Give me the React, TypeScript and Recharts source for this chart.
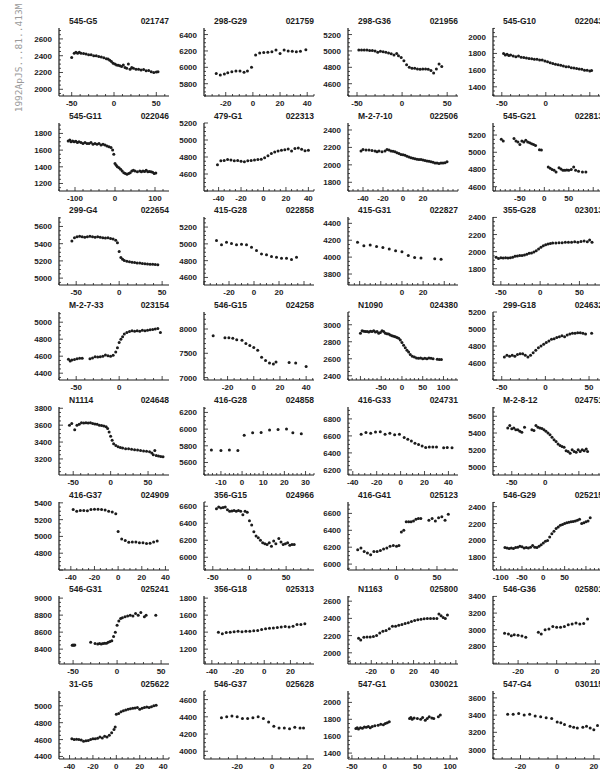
import React from 'react';
import { ScatterChart, Scatter, XAxis, YAxis } from 'recharts';

type Pt = [number, number];

const names = [
  '545-G5', '298-G29', '298-G36', '545-G10',
  '545-G11', '479-G1', 'M-2-7-10', '545-G21',
  '299-G4', '415-G28', '415-G31', '355-G28',
  'M-2-7-33', '546-G15', 'N1090', '299-G18',
  'N1114', '416-G28', '416-G33', 'M-2-8-12',
  '416-G37', '356-G15', '416-G41', '546-G29',
  '546-G31', '356-G18', 'N1163', '546-G36',
  '31-G5', '546-G37', '547-G1', '547-G4',
];

const ids = [
  '021747', '021759', '021956', '022043',
  '022046', '022313', '022506', '022813',
  '022654', '022858', '022827', '023013',
  '023154', '024258', '024380', '024632',
  '024648', '024858', '024731', '024751',
  '024909', '024966', '025123', '025215',
  '025241', '025313', '025800', '025801',
  '025622', '025628', '030021', '030115',
];

const xDomains: [number, number][] = [
  [-65, 65], [-36, 45], [-60, 62], [-60, 65],
  [-140, 135], [-53, 45], [-55, 55], [-105, 120],
  [-70, 58], [-40, 48], [-51, 53], [-60, 80],
  [-70, 58], [-38, 46], [-130, 135], [-60, 66],
  [-69, 78], [-18, 34], [-44, 48], [-78, 86],
  [-50, 43], [-62, 88], [-60, 76], [-118, 140],
  [-66, 59], [-46, 38], [-42, 62], [-33, 24],
  [-49, 45], [-39, 24], [-56, 112], [-35, 25],
];

const xLabels: number[][] = [
  [-50, 0, 50], [-20, 0, 20, 40], [-50, 0, 50], [-50, 0],
  [-100, 0, 100], [-40, -20, 0, 20, 40], [-40, -20, 0, 20], [-50, 0, 50],
  [-50, 0, 50], [-20, 0, 20], [0, 20], [-50, 0, 50],
  [-50, 0], [-20, 0, 20, 40], [-50, 0, 50, 100], [-50, 0, 50],
  [-50, 0, 50], [-10, 0, 10, 20, 30], [-40, -20, 0, 20, 40], [-50, 0],
  [-40, -20, 0, 20, 40], [-50, 0, 50], [0, 50], [-100, -50, 0, 50],
  [-50, 0, 50], [-40, -20, 0, 20], [-20, 0, 20, 40], [-20, 0, 20],
  [-40, -20, 0, 20, 40], [-20, 0, 20], [-50, 0, 50, 100], [-20, 0, 20],
];

// [major, minor]
const xSteps: [number, number][] = [
  [50, 10], [20, 5], [50, 10], [50, 10],
  [100, 20], [20, 5], [20, 5], [50, 10],
  [50, 10], [20, 5], [20, 5], [50, 10],
  [50, 10], [20, 5], [50, 10], [50, 10],
  [50, 10], [10, 2], [20, 5], [50, 10],
  [20, 5], [50, 10], [50, 10], [50, 10],
  [50, 10], [20, 5], [20, 5], [20, 5],
  [20, 5], [20, 5], [50, 10], [20, 5],
];

const yDomains: [number, number][] = [
  [1920, 2730], [5650, 6480], [4450, 5280], [1290, 2105],
  [1110, 1925], [4400, 5200], [1700, 2480], [4550, 5340],
  [4920, 5710], [4510, 5320], [3670, 4475], [1610, 2405],
  [4320, 5120], [6950, 8350], [2350, 3150], [4400, 5200],
  [3010, 3815], [5450, 6265], [6140, 6940], [4900, 5710],
  [4600, 5410], [5850, 6650], [5930, 6735], [1650, 2455],
  [8225, 9025], [1025, 1825], [1870, 2660], [2590, 3405],
  [4370, 5175], [3910, 4700], [1330, 2135], [2890, 3680],
];

const yLabels: number[][] = [
  [2000, 2200, 2400, 2600], [5800, 6000, 6200, 6400], [4600, 4800, 5000, 5200], [1400, 1600, 1800, 2000],
  [1200, 1400, 1600, 1800], [4600, 4800, 5000, 5200], [1800, 2000, 2200, 2400], [4600, 4800, 5000, 5200],
  [5000, 5200, 5400, 5600], [4600, 4800, 5000, 5200], [3800, 4000, 4200, 4400], [1800, 2000, 2200, 2400],
  [4400, 4600, 4800, 5000], [7000, 7500, 8000], [2400, 2600, 2800, 3000], [4600, 4800, 5000, 5200],
  [3200, 3400, 3600, 3800], [5600, 5800, 6000, 6200], [6200, 6400, 6600, 6800], [5000, 5200, 5400, 5600],
  [4800, 5000, 5200, 5400], [6000, 6200, 6400, 6600], [6000, 6200, 6400, 6600], [1800, 2000, 2200, 2400],
  [8400, 8600, 8800, 9000], [1200, 1400, 1600, 1800], [2000, 2200, 2400, 2600], [2800, 3000, 3200, 3400],
  [4400, 4600, 4800, 5000], [4000, 4200, 4400, 4600], [1400, 1600, 1800, 2000], [3000, 3200, 3400, 3600],
];

const ySteps: [number, number][] = [
  [200, 50], [200, 50], [200, 50], [200, 50],
  [200, 50], [200, 50], [200, 50], [200, 50],
  [200, 50], [200, 50], [200, 50], [200, 50],
  [200, 50], [500, 100], [200, 50], [200, 50],
  [200, 50], [200, 50], [200, 50], [200, 50],
  [200, 50], [200, 50], [200, 50], [200, 50],
  [200, 50], [200, 50], [200, 50], [200, 50],
  [200, 50], [200, 50], [200, 50], [200, 50],
];

const d021747: Pt[] = [[-50, 2380], [-47, 2430], [-45, 2440], [-43, 2430], [-41, 2440], [-39, 2430], [-36, 2425], [-33, 2420], [-30, 2410], [-27, 2410], [-24, 2400], [-21, 2400], [-18, 2390], [-15, 2385], [-12, 2375], [-9, 2365], [-7, 2360], [-5, 2345], [-3, 2330], [-1, 2310], [1, 2300], [3, 2290], [5, 2285], [7, 2280], [9, 2270], [11, 2290], [13, 2260], [15, 2250], [17, 2300], [19, 2240], [21, 2260], [23, 2250], [26, 2240], [29, 2240], [32, 2230], [35, 2235], [38, 2220], [41, 2225], [44, 2210], [47, 2200], [50, 2205], [52, 2210]];
const d021759: Pt[] = [[-27, 5925], [-24, 5905], [-21, 5920], [-18.5, 5935], [-15.5, 5945], [-12.5, 5955], [-9.5, 5955], [-6.5, 5940], [-4, 5955], [-1, 6000], [2, 6150], [5, 6175], [8, 6180], [11, 6185], [14, 6190], [17, 6210], [20, 6170], [23, 6210], [26, 6200], [29, 6195], [32, 6190], [35, 6195], [39, 6215]];
const d021956: Pt[] = [[-48, 5010], [-45, 5010], [-42, 5010], [-39, 5010], [-36, 5005], [-33, 5005], [-30, 5000], [-27, 4985], [-24, 4995], [-21, 4990], [-18, 4985], [-15, 4975], [-12, 4965], [-9, 4950], [-6, 4970], [-4, 4940], [-1, 4920], [2, 4880], [5, 4830], [8, 4800], [11, 4790], [14, 4790], [17, 4780], [20, 4775], [23, 4780], [26, 4780], [29, 4775], [32, 4760], [35, 4730], [38, 4780], [41, 4840], [44, 4810]];
const d022043: Pt[] = [[-48, 1800], [-46, 1780], [-44, 1790], [-42, 1775], [-40, 1780], [-37, 1770], [-34, 1760], [-31, 1770], [-28, 1755], [-25, 1750], [-22, 1745], [-19, 1740], [-16, 1735], [-13, 1730], [-10, 1730], [-7, 1720], [-4, 1720], [-1, 1710], [2, 1700], [5, 1690], [8, 1680], [11, 1670], [14, 1665], [17, 1660], [20, 1650], [23, 1640], [26, 1640], [29, 1630], [32, 1625], [35, 1620], [38, 1615], [41, 1610], [44, 1600], [47, 1600], [50, 1590], [52, 1595]];
const d022046: Pt[] = [[-117, 1710], [-113, 1720], [-110, 1700], [-106, 1710], [-102, 1700], [-98, 1705], [-94, 1690], [-90, 1700], [-85, 1690], [-80, 1680], [-75, 1690], [-70, 1680], [-65, 1680], [-60, 1690], [-55, 1670], [-50, 1680], [-45, 1670], [-40, 1680], [-35, 1660], [-30, 1670], [-25, 1660], [-20, 1650], [-15, 1640], [-10, 1630], [-6, 1600], [-3, 1550], [0, 1440], [3, 1420], [6, 1400], [10, 1390], [14, 1370], [18, 1350], [22, 1330], [26, 1320], [30, 1310], [34, 1320], [38, 1330], [42, 1350], [46, 1360], [50, 1350], [56, 1340], [62, 1350], [66, 1340], [70, 1350], [74, 1345], [78, 1360], [82, 1340], [86, 1345], [90, 1340], [94, 1335], [98, 1320], [102, 1325]];
const d022313: Pt[] = [[-41, 4710], [-38, 4755], [-35, 4760], [-32, 4770], [-29, 4765], [-26, 4755], [-23, 4760], [-20, 4750], [-17, 4745], [-14, 4755], [-11, 4760], [-8, 4765], [-5, 4770], [-2, 4775], [1, 4790], [4, 4815], [7, 4840], [10, 4860], [13, 4870], [16, 4880], [19, 4885], [22, 4895], [25, 4870], [28, 4900], [31, 4905], [34, 4890], [37, 4875], [40, 4880]];
const d022506: Pt[] = [[-42, 2160], [-40, 2175], [-37, 2170], [-34, 2170], [-31, 2165], [-28, 2160], [-26, 2150], [-24, 2160], [-21, 2150], [-18, 2160], [-16, 2175], [-14, 2170], [-12, 2160], [-10, 2155], [-8, 2150], [-6, 2140], [-4, 2130], [-2, 2120], [0, 2115], [2, 2110], [4, 2100], [6, 2090], [8, 2080], [10, 2075], [12, 2070], [14, 2065], [16, 2060], [18, 2060], [20, 2055], [22, 2050], [24, 2045], [26, 2040], [28, 2035], [30, 2030], [32, 2020], [34, 2020], [36, 2015], [38, 2020], [40, 2020], [42, 2025], [44, 2035]];
const d022813: Pt[] = [[-88, 5150], [-84, 5130], [-62, 5160], [-58, 5130], [-54, 5120], [-50, 5090], [-46, 5130], [-42, 5120], [-38, 5140], [-34, 5120], [-30, 5110], [-26, 5100], [-22, 5090], [-18, 5080], [-10, 5030], [-6, 5025], [8, 4830], [12, 4815], [16, 4800], [20, 4790], [24, 4770], [30, 4820], [34, 4805], [38, 4790], [42, 4790], [46, 4795], [50, 4790], [55, 4800], [60, 4830], [64, 4790], [70, 4780], [78, 4770], [85, 4770]];
const d022654: Pt[] = [[-55, 5430], [-52, 5470], [-49, 5480], [-46, 5485], [-43, 5480], [-40, 5475], [-37, 5480], [-34, 5485], [-31, 5480], [-28, 5475], [-25, 5480], [-22, 5475], [-19, 5470], [-16, 5465], [-13, 5470], [-10, 5460], [-7, 5455], [-4, 5440], [-2, 5410], [0, 5310], [2, 5240], [4, 5220], [6, 5205], [9, 5195], [12, 5190], [15, 5185], [18, 5180], [21, 5175], [24, 5175], [27, 5170], [30, 5168], [33, 5165], [36, 5162], [39, 5160], [42, 5158], [45, 5155]];
const d022858: Pt[] = [[-30, 5040], [-26, 4990], [-22, 5020], [-18, 5005], [-14, 4990], [-10, 4995], [-6, 4990], [-2, 4960], [2, 4920], [6, 4880], [10, 4870], [14, 4850], [18, 4840], [22, 4830], [26, 4830], [30, 4815], [34, 4840]];
const d022827: Pt[] = [[-42, 4175], [-36, 4135], [-30, 4145], [-24, 4125], [-18, 4115], [-12, 4095], [-6, 4075], [0, 4065], [6, 4020], [12, 3995], [18, 3990], [31, 3980], [37, 3975]];
const d023013: Pt[] = [[-56, 1935], [-53, 1920], [-50, 1930], [-47, 1925], [-44, 1930], [-41, 1925], [-38, 1930], [-35, 1935], [-32, 1945], [-29, 1950], [-26, 1955], [-23, 1955], [-20, 1960], [-17, 1970], [-14, 1980], [-11, 1985], [-8, 1995], [-5, 2010], [-2, 2030], [1, 2050], [4, 2070], [7, 2080], [10, 2090], [13, 2095], [16, 2100], [20, 2100], [24, 2105], [28, 2105], [32, 2110], [36, 2110], [40, 2110], [44, 2115], [48, 2110], [52, 2120], [56, 2125], [60, 2115], [63, 2135], [66, 2110]];
const d023154: Pt[] = [[-59, 4565], [-57, 4545], [-55, 4555], [-52, 4560], [-49, 4570], [-46, 4575], [-43, 4575], [-34, 4570], [-31, 4580], [-28, 4595], [-25, 4590], [-22, 4595], [-19, 4600], [-16, 4615], [-13, 4605], [-10, 4600], [-7, 4610], [-4, 4650], [-2, 4700], [0, 4760], [2, 4800], [4, 4830], [6, 4860], [9, 4880], [12, 4890], [15, 4900], [18, 4895], [21, 4900], [24, 4895], [27, 4905], [30, 4900], [33, 4905], [36, 4910], [39, 4915], [42, 4920], [45, 4925], [48, 4880]];
const d024258: Pt[] = [[-31, 7860], [-22, 7820], [-19, 7820], [-16, 7810], [-13, 7780], [-9, 7770], [-6, 7700], [-3, 7660], [0, 7620], [3, 7560], [6, 7420], [9, 7350], [12, 7300], [15, 7280], [17, 7320], [27, 7310], [32, 7300], [40, 7230]];
const d024380: Pt[] = [[-100, 2900], [-96, 2930], [-92, 2925], [-88, 2920], [-84, 2920], [-80, 2915], [-76, 2925], [-72, 2920], [-68, 2930], [-64, 2915], [-60, 2920], [-56, 2900], [-52, 2910], [-48, 2930], [-44, 2920], [-40, 2900], [-36, 2895], [-32, 2890], [-28, 2880], [-24, 2870], [-20, 2865], [-16, 2860], [-12, 2850], [-8, 2840], [-4, 2820], [0, 2790], [4, 2760], [8, 2730], [12, 2700], [16, 2680], [20, 2650], [25, 2630], [30, 2620], [35, 2610], [40, 2605], [45, 2610], [50, 2600], [55, 2605], [60, 2600], [65, 2610], [70, 2605], [75, 2600], [85, 2595], [90, 2590], [95, 2590]];
const d024632: Pt[] = [[-47, 4670], [-44, 4690], [-41, 4680], [-38, 4690], [-35, 4680], [-32, 4700], [-29, 4710], [-26, 4710], [-23, 4690], [-20, 4670], [-17, 4690], [-14, 4720], [-11, 4750], [-8, 4780], [-5, 4800], [-2, 4820], [1, 4840], [4, 4860], [7, 4880], [10, 4885], [13, 4900], [16, 4910], [19, 4920], [22, 4910], [25, 4930], [28, 4940], [31, 4950], [34, 4950], [37, 4955], [40, 4955], [43, 4950], [46, 4940], [53, 4950]];
const d024648: Pt[] = [[-55, 3600], [-52, 3620], [-48, 3545], [-45, 3600], [-42, 3610], [-39, 3630], [-36, 3625], [-33, 3630], [-30, 3625], [-27, 3630], [-24, 3620], [-21, 3615], [-18, 3610], [-15, 3600], [-12, 3595], [-9, 3590], [-6, 3580], [-4, 3560], [-2, 3520], [0, 3470], [2, 3420], [4, 3380], [7, 3360], [10, 3345], [13, 3335], [16, 3330], [20, 3320], [24, 3320], [28, 3315], [32, 3310], [36, 3305], [40, 3300], [44, 3295], [48, 3290], [52, 3285], [55, 3270], [57, 3250], [59, 3300], [61, 3240], [64, 3235], [67, 3230], [70, 3225]];
const d024858: Pt[] = [[-14.5, 5750], [-10, 5745], [-6, 5750], [-2, 5745], [1, 5925], [5, 5955], [9, 5960], [13, 5990], [17, 5995], [21, 6000], [24, 5955], [28, 5945]];
const d024731: Pt[] = [[-33, 6620], [-29, 6640], [-25, 6630], [-21, 6645], [-17, 6650], [-13, 6620], [-9, 6630], [-5, 6615], [-1, 6620], [3, 6580], [6, 6560], [9, 6540], [12, 6515], [15, 6500], [18, 6480], [21, 6465], [24, 6470], [27, 6470], [30, 6470], [36, 6460], [39, 6465], [43, 6460]];
const d024751: Pt[] = [[-56, 5460], [-53, 5490], [-50, 5450], [-47, 5460], [-44, 5440], [-41, 5440], [-38, 5420], [-35, 5410], [-31, 5470], [-20, 5440], [-17, 5430], [-14, 5490], [-11, 5470], [-8, 5460], [-5, 5455], [-2, 5440], [1, 5420], [4, 5400], [7, 5380], [10, 5350], [13, 5320], [16, 5300], [19, 5270], [22, 5250], [25, 5240], [28, 5230], [31, 5190], [34, 5180], [37, 5160], [40, 5200], [43, 5180], [46, 5170], [49, 5200], [52, 5180], [55, 5200], [58, 5190], [61, 5210], [63, 5180]];
const d024909: Pt[] = [[-38, 5320], [-35, 5300], [-32, 5310], [-29, 5310], [-26, 5305], [-23, 5320], [-20, 5325], [-17, 5325], [-14, 5320], [-11, 5315], [-8, 5300], [-5, 5290], [-2, 5270], [0, 5060], [3, 4970], [6, 4950], [9, 4930], [12, 4935], [15, 4935], [18, 4925], [21, 4925], [24, 4915], [27, 4920], [30, 4935], [33, 4945]];
const d024966: Pt[] = [[-45, 6570], [-42, 6590], [-39, 6580], [-36, 6585], [-33, 6590], [-30, 6560], [-27, 6540], [-24, 6545], [-21, 6550], [-18, 6540], [-15, 6550], [-12, 6540], [-9, 6500], [-6, 6540], [-3, 6530], [0, 6430], [3, 6380], [6, 6300], [9, 6250], [12, 6230], [15, 6200], [18, 6170], [21, 6160], [24, 6150], [27, 6170], [30, 6130], [33, 6190], [36, 6160], [40, 6220], [43, 6180], [46, 6150], [49, 6160], [52, 6170], [55, 6140], [58, 6150], [61, 6150]];
const d025123: Pt[] = [[-48, 6170], [-44, 6190], [-40, 6150], [-36, 6130], [-32, 6110], [-28, 6150], [-24, 6150], [-20, 6160], [-16, 6180], [-12, 6190], [-8, 6210], [-4, 6220], [0, 6210], [3, 6220], [6, 6380], [9, 6400], [12, 6500], [15, 6500], [18, 6500], [21, 6510], [24, 6530], [27, 6540], [30, 6540], [40, 6520], [44, 6540], [48, 6510], [52, 6550], [56, 6560], [60, 6520], [64, 6590]];
const d025215: Pt[] = [[-90, 1915], [-85, 1910], [-80, 1905], [-75, 1910], [-70, 1905], [-65, 1915], [-60, 1920], [-55, 1930], [-50, 1925], [-45, 1910], [-40, 1915], [-35, 1910], [-30, 1920], [-25, 1940], [-20, 1920], [-15, 1915], [-10, 1930], [-5, 1950], [0, 1970], [5, 1990], [10, 2000], [15, 2040], [20, 2080], [25, 2110], [30, 2140], [35, 2160], [40, 2180], [45, 2190], [50, 2200], [55, 2210], [60, 2215], [65, 2220], [70, 2225], [75, 2230], [80, 2240], [85, 2250], [90, 2200], [95, 2210], [100, 2220], [105, 2230], [110, 2270]];
const d025241: Pt[] = [[-51, 8445], [-50, 8450], [-49, 8445], [-48, 8450], [-30, 8480], [-25, 8465], [-22, 8460], [-20, 8465], [-18, 8460], [-16, 8465], [-14, 8470], [-12, 8470], [-10, 8480], [-8, 8490], [-6, 8500], [-4, 8550], [-2, 8600], [0, 8680], [2, 8730], [4, 8760], [6, 8770], [9, 8780], [12, 8790], [15, 8800], [18, 8790], [21, 8820], [24, 8800], [27, 8830], [31, 8780], [33, 8800], [44, 8800]];
const d025313: Pt[] = [[-35, 1400], [-32, 1380], [-29, 1395], [-26, 1400], [-23, 1405], [-20, 1410], [-17, 1405], [-14, 1410], [-11, 1410], [-8, 1415], [-5, 1420], [-2, 1430], [1, 1440], [4, 1445], [7, 1450], [10, 1455], [13, 1460], [16, 1465], [19, 1460], [22, 1470], [25, 1490], [28, 1490], [31, 1500]];
const d025800: Pt[] = [[-32, 2170], [-30, 2150], [-27, 2180], [-24, 2185], [-21, 2185], [-18, 2190], [-15, 2200], [-12, 2230], [-9, 2250], [-6, 2260], [-3, 2280], [0, 2310], [3, 2310], [6, 2320], [9, 2330], [12, 2340], [15, 2350], [18, 2365], [21, 2375], [24, 2385], [27, 2390], [30, 2395], [33, 2400], [36, 2400], [39, 2400], [42, 2400], [44, 2450], [46, 2430], [48, 2410], [50, 2400], [52, 2440]];
const d025801: Pt[] = [[-27, 2960], [-25, 2950], [-23.5, 2930], [-22, 2940], [-20, 2935], [-18, 2925], [-16, 2910], [-9.5, 2970], [-8, 2950], [-6, 3000], [-4, 3010], [-2, 3040], [0, 3030], [2, 3030], [4, 3040], [6, 3060], [8, 3070], [10, 3080], [12, 3070], [14, 3075], [16, 3130]];
const d025622: Pt[] = [[-38, 4610], [-36, 4600], [-34, 4605], [-32, 4600], [-30, 4595], [-28, 4580], [-26, 4585], [-24, 4590], [-22, 4600], [-20, 4610], [-18, 4610], [-16, 4615], [-14, 4630], [-12, 4620], [-10, 4640], [-8, 4630], [-6, 4650], [-4, 4680], [-2, 4720], [-1, 4750], [0, 4900], [2, 4910], [4, 4930], [6, 4940], [8, 4950], [10, 4960], [12, 4965], [14, 4970], [16, 4975], [18, 4980], [20, 4960], [22, 4970], [24, 4980], [26, 4985], [28, 4980], [30, 4990], [32, 5000], [34, 5005]];
const d025628: Pt[] = [[-29, 4390], [-26, 4400], [-23, 4410], [-20, 4400], [-17, 4380], [-14, 4380], [-11, 4390], [-8, 4400], [-5, 4380], [-2, 4340], [1, 4290], [4, 4270], [7, 4270], [10, 4260], [13, 4280], [16, 4270], [18, 4270]];
const d030021: Pt[] = [[-44, 1690], [-42, 1700], [-40, 1685], [-37, 1700], [-34, 1695], [-31, 1710], [-28, 1705], [-25, 1715], [-22, 1700], [-19, 1715], [-15, 1725], [-10, 1730], [-6, 1740], [-2, 1735], [1, 1750], [4, 1760], [7, 1770], [38, 1810], [40, 1820], [42, 1800], [45, 1815], [50, 1810], [55, 1800], [58, 1820], [62, 1790], [65, 1810], [68, 1830], [72, 1815], [75, 1810], [82, 1830], [85, 1850]];
const d030115: Pt[] = [[-27, 3410], [-24, 3410], [-21, 3420], [-18, 3400], [-15, 3410], [-12, 3390], [-9, 3380], [-6, 3370], [-3, 3360], [0, 3320], [2, 3310], [4, 3290], [7, 3270], [9, 3260], [11, 3250], [14, 3260], [16, 3270], [18, 3250], [20, 3230], [22, 3280]];

const series: Pt[][] = [
  d021747, d021759, d021956, d022043,
  d022046, d022313, d022506, d022813,
  d022654, d022858, d022827, d023013,
  d023154, d024258, d024380, d024632,
  d024648, d024858, d024731, d024751,
  d024909, d024966, d025123, d025215,
  d025241, d025313, d025800, d025801,
  d025622, d025628, d030021, d030115,
];

const INK = '#1c1c1c';
const FONT = '"Liberation Sans", Arial, sans-serif';
const BOX_W = 110;
const BOX_H = 68;
const AXIS_W = 38;

const colLeft = (c: number) => Math.round(59 + c * 144.6);
const rowTop = (r: number) => Math.round(28 + r * 94.7);

function tickValues(domain: [number, number], step: number) {
  const out: number[] = [];
  const start = Math.ceil(domain[0] / step) * step;
  for (let v = start; v <= domain[1] + 1e-9; v += step) out.push(Math.round(v * 100) / 100);
  return out;
}

function makeTick(side: string, major: number, labels: number[]) {
  return (props: any) => {
    const { x, y, payload } = props;
    const v = payload.value;
    const isMajor = Math.abs(v / major - Math.round(v / major)) < 1e-6;
    const len = isMajor ? 4 : 2;
    const show = labels.includes(v);
    let x2 = x;
    let y2 = y;
    if (side === 'bottom') y2 = y - len;
    if (side === 'top') y2 = y + len;
    if (side === 'left') x2 = x + len;
    if (side === 'right') x2 = x - len;
    return (
      <g>
        <line x1={x} y1={y} x2={x2} y2={y2} stroke={INK} strokeWidth={0.8} />
        {show && side === 'bottom' && (
          <text x={x} y={y + 10} textAnchor="middle" fontSize={8} fontWeight="bold" fontFamily={FONT} fill={INK}>{v}</text>
        )}
        {show && side === 'left' && (
          <text x={x - 7} y={y + 3} textAnchor="end" fontSize={8} fontWeight="bold" fontFamily={FONT} fill={INK}>{v}</text>
        )}
      </g>
    );
  };
}

const dot = (p: any) => <circle cx={p.cx} cy={p.cy} r={1.5} fill={INK} />;

function Panel({ i }: { i: number }) {
  const r = Math.floor(i / 4);
  const c = i % 4;
  const left = colLeft(c);
  const top = rowTop(r);
  const xd = xDomains[i];
  const yd = yDomains[i];
  const xt = tickValues(xd, xSteps[i][1]);
  const yt = tickValues(yd, ySteps[i][1]);
  const pts = series[i].map(([x, y]) => ({ x, y }));
  const line = { stroke: INK, strokeWidth: 1.2 };
  return (
    <>
      <div
        style={{
          position: 'absolute', left, top: top - 11, width: BOX_W, display: 'flex',
          justifyContent: 'space-between', fontFamily: FONT, fontWeight: 'bold', fontSize: 8.5,
          lineHeight: '9px', color: INK, whiteSpace: 'nowrap',
        }}
      >
        <span style={{ paddingLeft: 10 }}>{names[i]}</span>
        <span>{ids[i]}</span>
      </div>
      <div style={{ position: 'absolute', left: left - AXIS_W, top: top - 4 }}>
        <ScatterChart width={AXIS_W + BOX_W + 2} height={BOX_H + 18} margin={{ top: 4, right: 2, bottom: 0, left: 0 }}>
          <XAxis xAxisId="b" type="number" dataKey="x" orientation="bottom" domain={xd} allowDataOverflow
            ticks={xt} interval={0} tickLine={false} tickSize={0} tickMargin={0} height={14}
            axisLine={line} tick={makeTick('bottom', xSteps[i][0], xLabels[i])} />
          <XAxis xAxisId="t" type="number" dataKey="x" orientation="top" domain={xd} allowDataOverflow
            ticks={xt} interval={0} tickLine={false} tickSize={0} tickMargin={0} height={0}
            axisLine={line} tick={makeTick('top', xSteps[i][0], [])} />
          <YAxis yAxisId="l" type="number" dataKey="y" orientation="left" domain={yd} allowDataOverflow
            ticks={yt} interval={0} tickLine={false} tickSize={0} tickMargin={0} width={AXIS_W}
            axisLine={line} tick={makeTick('left', ySteps[i][0], yLabels[i])} />
          <YAxis yAxisId="r" type="number" dataKey="y" orientation="right" domain={yd} allowDataOverflow
            ticks={yt} interval={0} tickLine={false} tickSize={0} tickMargin={0} width={0}
            axisLine={line} tick={makeTick('right', ySteps[i][0], [])} />
          <Scatter data={pts} xAxisId="b" yAxisId="l" dataKey="y" shape={dot} isAnimationActive={false} />
        </ScatterChart>
      </div>
    </>
  );
}

export default function App() {
  return (
    <div style={{ position: 'absolute', left: 0, top: 0, width: 600, height: 770, overflow: 'hidden', background: '#fff' }}>
      <div
        style={{
          position: 'absolute', left: 18, top: 58, transform: 'translate(-50%, -50%) rotate(-90deg)',
          fontFamily: '"DejaVu Sans Mono", monospace', fontSize: 9.5, color: '#9a9a9a', whiteSpace: 'nowrap',
        }}
      >
        1992ApJS...81..413M
      </div>
      {names.map((_, i) => (
        <Panel key={ids[i]} i={i} />
      ))}
    </div>
  );
}
